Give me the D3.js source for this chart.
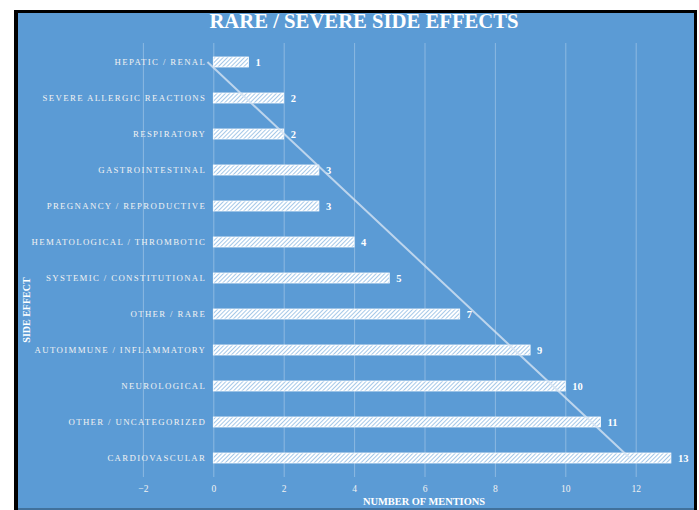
<!DOCTYPE html>
<html>
<head>
<meta charset="utf-8">
<script src="https://cdn.jsdelivr.net/npm/d3@7"></script>
<style>
  html, body { margin: 0; padding: 0; background: #ffffff; }
  svg { display: block; }
  text { font-family: "Liberation Serif", "DejaVu Serif", serif; }
</style>
</head>
<body>
<svg id="chart" width="699" height="510"></svg>
<script>
// Side effects, listed top to bottom, and how often each was mentioned
const categories = [
  "HEPATIC / RENAL",
  "SEVERE ALLERGIC REACTIONS",
  "RESPIRATORY",
  "GASTROINTESTINAL",
  "PREGNANCY / REPRODUCTIVE",
  "HEMATOLOGICAL / THROMBOTIC",
  "SYSTEMIC / CONSTITUTIONAL",
  "OTHER / RARE",
  "AUTOIMMUNE / INFLAMMATORY",
  "NEUROLOGICAL",
  "OTHER / UNCATEGORIZED",
  "CARDIOVASCULAR"
];
const mentions = [1, 2, 2, 3, 3, 4, 5, 7, 9, 10, 11, 13];
const xTicks = [-2, 0, 2, 4, 6, 8, 10, 12];

const chartTitle = "RARE / SEVERE SIDE EFFECTS";
const xTitle = "NUMBER OF MENTIONS";
const yTitle = "SIDE EFFECT";

const svg = d3.select("#chart");

// Frame: blue panel with a heavy dark border on the top, left and right
svg.append("rect").attr("x", 14).attr("y", 10).attr("width", 683).attr("height", 500).attr("fill", "#000");
svg.append("rect").attr("x", 18).attr("y", 13).attr("width", 676).attr("height", 495).attr("fill", "#5b9bd5");
svg.append("rect").attr("x", 18).attr("y", 508).attr("width", 676).attr("height", 2).attr("fill", "#41719c");

// Plot area
const plotTop = 43, plotBottom = 477;
const x = d3.scaleLinear().domain([-2, 12]).range([142.9, 635.7]);
const y = d3.scalePoint().domain(categories).range([44, 476]).padding(0.5);
const barH = 10;

// Hatched fill for the bars
const defs = svg.append("defs");
const pat = defs.append("pattern")
  .attr("id", "hatch")
  .attr("patternUnits", "userSpaceOnUse")
  .attr("width", 3).attr("height", 3)
  .attr("patternTransform", "rotate(45)");
pat.append("rect").attr("width", 3).attr("height", 3).attr("fill", "#ffffff");
pat.append("line").attr("x1", 0).attr("y1", 0).attr("x2", 0).attr("y2", 3)
  .attr("stroke", "#5b9bd5").attr("stroke-width", 1.1);

// Vertical gridlines + tick labels
const xAxis = d3.axisBottom(x)
  .tickValues(xTicks)
  .tickSize(-(plotBottom - plotTop))
  .tickPadding(8)
  .tickFormat(d3.format("d"));
const gx = svg.append("g").attr("transform", `translate(0,${plotBottom})`).call(xAxis);
gx.select(".domain").remove();
gx.selectAll(".tick line").attr("stroke", "#ffffff").attr("stroke-opacity", 0.3).attr("stroke-width", 1);
gx.selectAll(".tick text")
  .attr("fill", "#f2f2f2")
  .style("font-size", "9.5px")
  .style("font-family", "'Liberation Serif', serif");

// Bars
svg.append("g").selectAll("rect")
  .data(categories)
  .join("rect")
  .attr("x", x(0))
  .attr("y", d => y(d) - barH / 2)
  .attr("width", (d, i) => x(mentions[i]) - x(0))
  .attr("height", barH)
  .attr("fill", "url(#hatch)")
  .attr("stroke", "#ffffff")
  .attr("stroke-width", 0.8);

// Category labels beside the zero axis
const yAxis = d3.axisLeft(y).tickSize(0).tickPadding(7);
const gy = svg.append("g").attr("transform", `translate(${x(0)},0)`).call(yAxis);
gy.select(".domain").remove();
gy.selectAll(".tick text")
  .attr("fill", "#f2f2f2")
  .style("font-size", "8.8px")
  .style("letter-spacing", "1.35px")
  .style("font-family", "'Liberation Serif', serif");

// Value labels at the bar ends
svg.append("g").selectAll("text")
  .data(categories)
  .join("text")
  .attr("x", (d, i) => x(mentions[i]) + 7)
  .attr("y", d => y(d))
  .attr("dy", "0.35em")
  .attr("fill", "#ffffff")
  .style("font-size", "10.5px")
  .style("font-weight", "bold")
  .text((d, i) => mentions[i]);

// Linear trend of the values across the category order
const idx = mentions.map((_, i) => i + 1);
const mx = d3.mean(idx), my = d3.mean(mentions);
const slope = d3.sum(idx, (v, i) => (v - mx) * (mentions[i] - my)) / d3.sum(idx, v => (v - mx) ** 2);
const intercept = my - slope * mx;
const trend = [0, categories.length - 1].map(i => [x(intercept + slope * (i + 1)), y(categories[i])]);
svg.append("path")
  .attr("d", d3.line()(trend))
  .attr("fill", "none")
  .attr("stroke", "#d6e4f3")
  .attr("stroke-opacity", 0.8)
  .attr("stroke-width", 2);

// Titles
svg.append("text")
  .attr("x", 364).attr("y", 28)
  .attr("text-anchor", "middle")
  .attr("fill", "#ffffff")
  .style("font-size", "20.7px")
  .style("font-weight", "bold")
  .text(chartTitle);

svg.append("text")
  .attr("x", 424).attr("y", 505)
  .attr("text-anchor", "middle")
  .attr("fill", "#ffffff")
  .style("font-size", "10.4px")
  .style("font-weight", "bold")
  .text(xTitle);

svg.append("text")
  .attr("transform", "translate(29.5,310) rotate(-90)")
  .attr("text-anchor", "middle")
  .attr("fill", "#ffffff")
  .style("font-size", "10px")
  .style("font-weight", "bold")
  .text(yTitle);
</script>
</body>
</html>
